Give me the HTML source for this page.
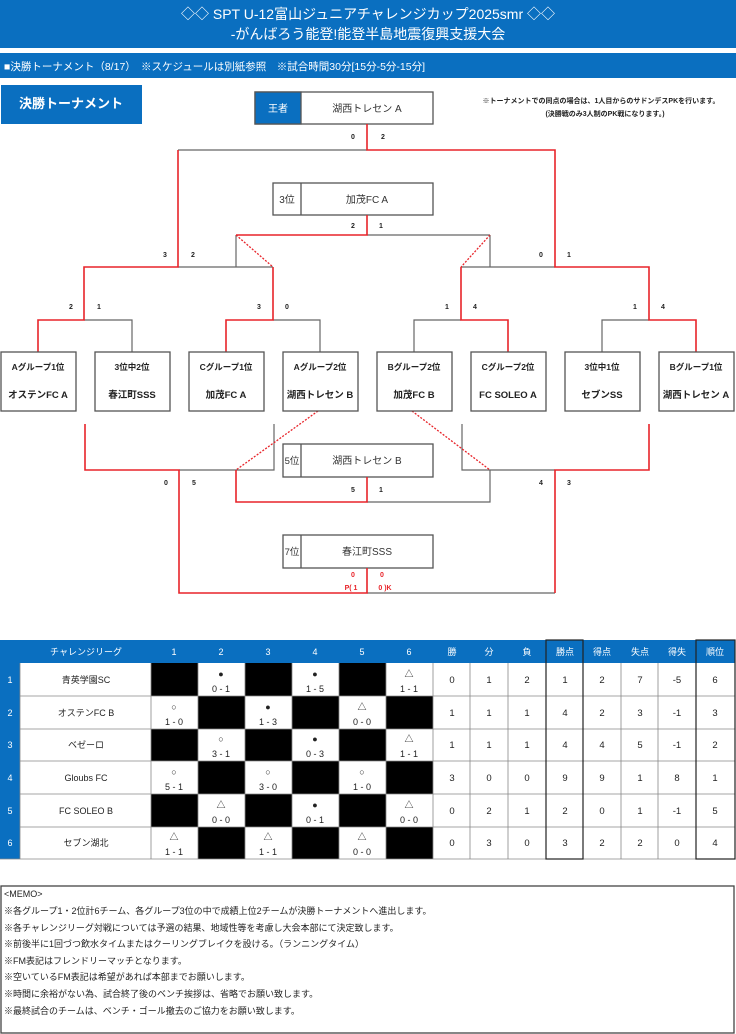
<!DOCTYPE html>
<html><head><meta charset="utf-8"><style>
body{margin:0;background:#fff}
svg{display:block}
text{font-family:"Liberation Sans","Noto Sans CJK JP",sans-serif}
</style></head><body>
<svg width="736" height="1034" viewBox="0 0 736 1034" xmlns="http://www.w3.org/2000/svg">
<rect x="0" y="0" width="736" height="48" fill="#0a6fc0"/>
<text x="368" y="19" font-size="14" fill="#fff" text-anchor="middle">◇◇ SPT U-12富山ジュニアチャレンジカップ2025smr ◇◇</text>
<text x="368" y="39" font-size="14" fill="#fff" text-anchor="middle">-がんばろう能登!能登半島地震復興支援大会</text>
<rect x="0" y="53" width="736" height="25" fill="#0a6fc0"/>
<text x="4" y="70" font-size="10.5" fill="#fff">■決勝トーナメント（8/17）　※スケジュールは別紙参照　※試合時間30分[15分-5分-15分]</text>
<rect x="1" y="85" width="141" height="39" fill="#0a6fc0"/>
<text x="71" y="108" font-size="13" font-weight="bold" fill="#fff" text-anchor="middle">決勝トーナメント</text>
<text x="601" y="103" font-size="7" font-weight="bold" fill="#222" text-anchor="middle">※トーナメントでの同点の場合は、1人目からのサドンデスPKを行います。</text>
<text x="605" y="116" font-size="7" font-weight="bold" fill="#222" text-anchor="middle">(決勝戦のみ3人制のPK戦になります。)</text>

<g fill="none" stroke-width="1.3">
<rect x="255" y="92" width="178" height="32" fill="#fff" stroke="#555"/>
<rect x="255" y="92" width="46" height="32" fill="#0a6fc0" stroke="#555"/>
<rect x="273" y="183" width="160" height="32" fill="#fff" stroke="#555"/>
<line x1="301" y1="183" x2="301" y2="215" stroke="#555"/>
<rect x="283" y="444" width="150" height="33" fill="#fff" stroke="#555"/>
<line x1="301" y1="444" x2="301" y2="477" stroke="#555"/>
<rect x="283" y="535" width="150" height="33" fill="#fff" stroke="#555"/>
<line x1="301" y1="535" x2="301" y2="568" stroke="#555"/>
</g>
<text x="278" y="112" font-size="10" fill="#fff" text-anchor="middle">王者</text>
<text x="367" y="112" font-size="10" fill="#333" text-anchor="middle">湖西トレセン A</text>
<text x="287" y="203" font-size="10" fill="#333" text-anchor="middle">3位</text>
<text x="367" y="203" font-size="10" fill="#333" text-anchor="middle">加茂FC A</text>
<text x="292" y="464" font-size="9.5" fill="#333" text-anchor="middle">5位</text>
<text x="367" y="464" font-size="10" fill="#333" text-anchor="middle">湖西トレセン B</text>
<text x="292" y="555" font-size="9.5" fill="#333" text-anchor="middle">7位</text>
<text x="367" y="555" font-size="10" fill="#333" text-anchor="middle">春江町SSS</text>

<g stroke="#666" stroke-width="1.2" fill="none">
<path d="M178 150H367M367 235H490M490 235V267M236 235V267M178 267H273M461 267H555"/>
<path d="M84 320H132V352M273 320H320V352M414 352V320H461M602 352V320H649"/>
<path d="M274 424V470H179M462 424V470H555M367 502H490V470"/>
<path d="M367 593H555"/>
</g>
<g stroke="#e8242a" stroke-width="1.6" fill="none">
<path d="M367 124V150H555V267H649V320H696V352"/>
<path d="M178 150V267H84V320H38V352"/>
<path d="M367 215V235H236"/>
<path d="M273 267V320H226V352M461 267V320H508V352M555 267V267"/>
<path d="M85 424V470H179V593H367V568"/>
<path d="M649 424V470H555V593"/>
<path d="M236 470V502H367V477"/>
</g>
<g stroke="#e8242a" stroke-width="1.3" stroke-dasharray="2,1.5" fill="none">
<path d="M236 235L273 267M490 235L461 267M318 411L236 470M412 411L490 470"/>
</g>
<g font-size="7" font-weight="bold" fill="#222" text-anchor="middle">
<text x="353" y="139">0</text><text x="383" y="139">2</text>
<text x="353" y="228">2</text><text x="381" y="228">1</text>
<text x="165" y="257">3</text><text x="193" y="257">2</text>
<text x="541" y="257">0</text><text x="569" y="257">1</text>
<text x="71" y="309">2</text><text x="99" y="309">1</text>
<text x="259" y="309">3</text><text x="287" y="309">0</text>
<text x="447" y="309">1</text><text x="475" y="309">4</text>
<text x="635" y="309">1</text><text x="663" y="309">4</text>
<text x="166" y="485">0</text><text x="194" y="485">5</text>
<text x="353" y="492">5</text><text x="381" y="492">1</text>
<text x="541" y="485">4</text><text x="569" y="485">3</text>
</g>
<g font-size="7" font-weight="bold" fill="#e8242a" text-anchor="middle">
<text x="353" y="577">0</text><text x="382" y="577">0</text>
<text x="351" y="590">P( 1</text><text x="385" y="590">0 )K</text>
</g>

<g stroke="#555" stroke-width="1.3" fill="#fff">
<rect x="1" y="352" width="75" height="59"/><rect x="95" y="352" width="75" height="59"/>
<rect x="189" y="352" width="75" height="59"/><rect x="283" y="352" width="75" height="59"/>
<rect x="377" y="352" width="75" height="59"/><rect x="471" y="352" width="75" height="59"/>
<rect x="565" y="352" width="75" height="59"/><rect x="659" y="352" width="75" height="59"/>
</g>
<g font-size="8.5" font-weight="bold" fill="#222" text-anchor="middle">
<text x="38" y="370">Aグループ1位</text><text x="132" y="370">3位中2位</text>
<text x="226" y="370">Cグループ1位</text><text x="320" y="370">Aグループ2位</text>
<text x="414" y="370">Bグループ2位</text><text x="508" y="370">Cグループ2位</text>
<text x="602" y="370">3位中1位</text><text x="696" y="370">Bグループ1位</text>
</g>
<g font-size="9.5" font-weight="bold" fill="#222" text-anchor="middle">
<text x="38" y="398">オステンFC A</text><text x="132" y="398">春江町SSS</text>
<text x="226" y="398">加茂FC A</text><text x="320" y="398">湖西トレセン B</text>
<text x="414" y="398">加茂FC B</text><text x="508" y="398">FC SOLEO A</text>
<text x="602" y="398">セブンSS</text><text x="696" y="398">湖西トレセン A</text>
</g>

<!-- League table -->
<rect x="0" y="640" width="735" height="23" fill="#0a6fc0"/>
<rect x="0" y="663" width="20" height="196" fill="#0a6fc0"/>
<g font-size="9" fill="#fff" text-anchor="middle">
<text x="86" y="655">チャレンジリーグ</text>
<text x="174" y="655">1</text><text x="221" y="655">2</text><text x="268" y="655">3</text><text x="315" y="655">4</text><text x="362" y="655">5</text><text x="409" y="655">6</text>
<text x="452" y="655">勝</text><text x="489" y="655">分</text><text x="527" y="655">負</text><text x="565" y="655">勝点</text><text x="602" y="655">得点</text><text x="640" y="655">失点</text><text x="677" y="655">得失</text><text x="715" y="655">順位</text>
<text x="10" y="683">1</text><text x="10" y="716">2</text><text x="10" y="748">3</text><text x="10" y="781">4</text><text x="10" y="814">5</text><text x="10" y="846">6</text>
</g>
<g fill="#000">
<rect x="151" y="663" width="47" height="33"/><rect x="245" y="663" width="47" height="33"/><rect x="339" y="663" width="47" height="33"/>
<rect x="198" y="696" width="47" height="33"/><rect x="292" y="696" width="47" height="33"/><rect x="386" y="696" width="47" height="33"/>
<rect x="151" y="729" width="47" height="32"/><rect x="245" y="729" width="47" height="32"/><rect x="339" y="729" width="47" height="32"/>
<rect x="198" y="761" width="47" height="33"/><rect x="292" y="761" width="47" height="33"/><rect x="386" y="761" width="47" height="33"/>
<rect x="151" y="794" width="47" height="33"/><rect x="245" y="794" width="47" height="33"/><rect x="339" y="794" width="47" height="33"/>
<rect x="198" y="827" width="47" height="32"/><rect x="292" y="827" width="47" height="32"/><rect x="386" y="827" width="47" height="32"/>
</g>
<g stroke="#888" stroke-width="0.8" fill="none">
<path d="M20 696H735M20 729H735M20 761H735M20 794H735M20 827H735M0 859H735"/>
<path d="M151 663V859M198 663V859M245 663V859M292 663V859M339 663V859M386 663V859M433 663V859M470 663V859M508 663V859M583 663V859M621 663V859M658 663V859M20 663V859M735 663V859"/>
</g>
<g stroke="#222" stroke-width="1.2" fill="none">
<rect x="546" y="640" width="37" height="219"/><rect x="696" y="640" width="39" height="219"/>
</g>
<g font-size="9" fill="#222" text-anchor="middle">
<text x="86" y="683">青英学園SC</text><text x="86" y="716">オステンFC B</text><text x="86" y="748">ベゼーロ</text><text x="86" y="781">Gloubs FC</text><text x="86" y="814">FC SOLEO B</text><text x="86" y="846">セブン湖北</text>
</g>
<g font-size="9" fill="#222" text-anchor="middle">
<text x="221" y="677">●</text><text x="221" y="692">0 - 1</text>
<text x="315" y="677">●</text><text x="315" y="692">1 - 5</text>
<text x="409" y="677">△</text><text x="409" y="692">1 - 1</text>
<text x="174" y="710">○</text><text x="174" y="725">1 - 0</text>
<text x="268" y="710">●</text><text x="268" y="725">1 - 3</text>
<text x="362" y="710">△</text><text x="362" y="725">0 - 0</text>
<text x="221" y="742">○</text><text x="221" y="757">3 - 1</text>
<text x="315" y="742">●</text><text x="315" y="757">0 - 3</text>
<text x="409" y="742">△</text><text x="409" y="757">1 - 1</text>
<text x="174" y="775">○</text><text x="174" y="790">5 - 1</text>
<text x="268" y="775">○</text><text x="268" y="790">3 - 0</text>
<text x="362" y="775">○</text><text x="362" y="790">1 - 0</text>
<text x="221" y="808">△</text><text x="221" y="823">0 - 0</text>
<text x="315" y="808">●</text><text x="315" y="823">0 - 1</text>
<text x="409" y="808">△</text><text x="409" y="823">0 - 0</text>
<text x="174" y="840">△</text><text x="174" y="855">1 - 1</text>
<text x="268" y="840">△</text><text x="268" y="855">1 - 1</text>
<text x="362" y="840">△</text><text x="362" y="855">0 - 0</text>
</g>
<g font-size="9.5" fill="#222" text-anchor="middle">
<text y="683"><tspan x="452">0</tspan><tspan x="489">1</tspan><tspan x="527">2</tspan><tspan x="565">1</tspan><tspan x="602">2</tspan><tspan x="640">7</tspan><tspan x="677">-5</tspan><tspan x="715">6</tspan></text>
<text y="716"><tspan x="452">1</tspan><tspan x="489">1</tspan><tspan x="527">1</tspan><tspan x="565">4</tspan><tspan x="602">2</tspan><tspan x="640">3</tspan><tspan x="677">-1</tspan><tspan x="715">3</tspan></text>
<text y="748"><tspan x="452">1</tspan><tspan x="489">1</tspan><tspan x="527">1</tspan><tspan x="565">4</tspan><tspan x="602">4</tspan><tspan x="640">5</tspan><tspan x="677">-1</tspan><tspan x="715">2</tspan></text>
<text y="781"><tspan x="452">3</tspan><tspan x="489">0</tspan><tspan x="527">0</tspan><tspan x="565">9</tspan><tspan x="602">9</tspan><tspan x="640">1</tspan><tspan x="677">8</tspan><tspan x="715">1</tspan></text>
<text y="814"><tspan x="452">0</tspan><tspan x="489">2</tspan><tspan x="527">1</tspan><tspan x="565">2</tspan><tspan x="602">0</tspan><tspan x="640">1</tspan><tspan x="677">-1</tspan><tspan x="715">5</tspan></text>
<text y="846"><tspan x="452">0</tspan><tspan x="489">3</tspan><tspan x="527">0</tspan><tspan x="565">3</tspan><tspan x="602">2</tspan><tspan x="640">2</tspan><tspan x="677">0</tspan><tspan x="715">4</tspan></text>
</g>

<!-- memo -->
<rect x="1" y="886" width="733" height="147" fill="#fff" stroke="#444" stroke-width="1.3"/>
<g font-size="9" fill="#222">
<text x="4" y="897">&lt;MEMO&gt;</text>
<text x="4" y="914">※各グループ1・2位計6チーム、各グループ3位の中で成績上位2チームが決勝トーナメントへ進出します。</text>
<text x="4" y="931">※各チャレンジリーグ対戦については予選の結果、地域性等を考慮し大会本部にて決定致します。</text>
<text x="4" y="947">※前後半に1回づつ飲水タイムまたはクーリングブレイクを設ける。（ランニングタイム）</text>
<text x="4" y="964">※FM表記はフレンドリーマッチとなります。</text>
<text x="4" y="980">※空いているFM表記は希望があれば本部までお願いします。</text>
<text x="4" y="997">※時間に余裕がない為、試合終了後のベンチ挨拶は、省略でお願い致します。</text>
<text x="4" y="1014">※最終試合のチームは、ベンチ・ゴール撤去のご協力をお願い致します。</text>
</g>
</svg>
</body></html>
